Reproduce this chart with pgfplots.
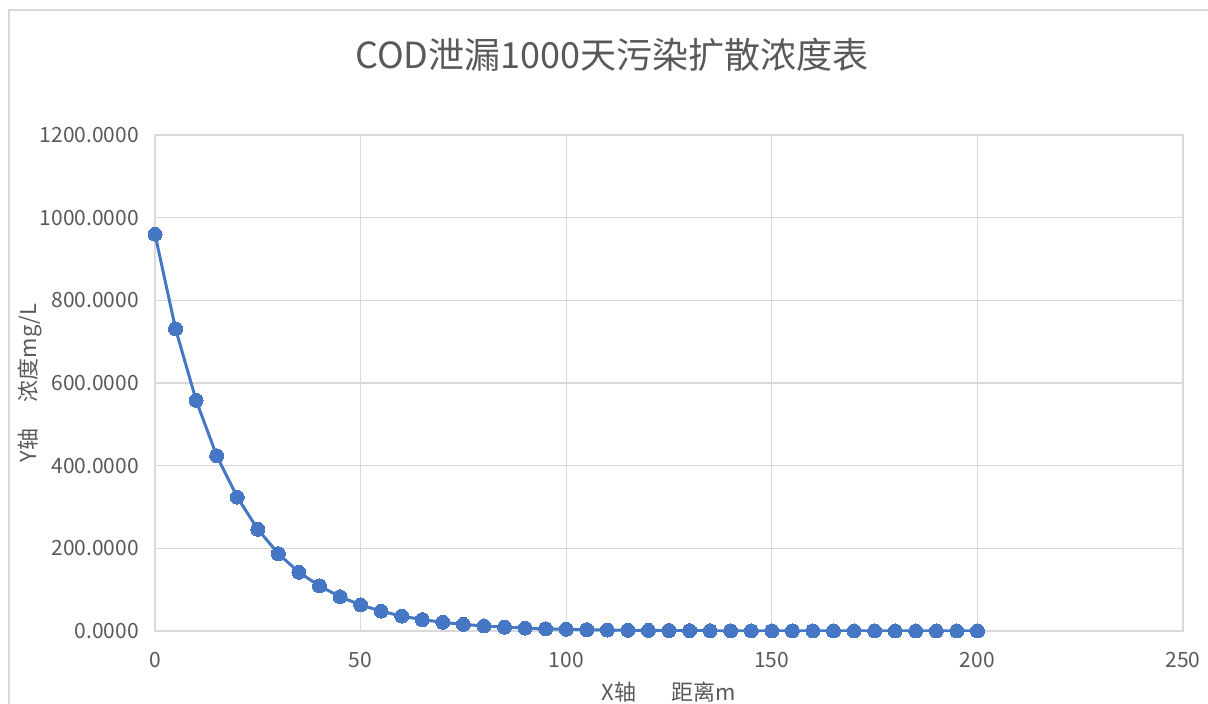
\documentclass[border=0pt]{standalone}
\usepackage{pgfplots}
\pgfplotsset{compat=1.18}
\usepackage{fontspec}
\setmainfont{Noto Sans CJK SC}

\definecolor{serie}{RGB}{70,119,196}
\definecolor{rejilla}{RGB}{217,217,217}
\definecolor{texto}{RGB}{89,89,89}

\pgfplotstableread{
x     c
0     960
5     731
10    558
15    424
20    324
25    246
30    187
35    142
40    109
45    83
50    63
55    48
60    36
65    27.5
70    21
75    16
80    12.2
85    9.3
90    7.1
95    5.4
100   4.1
105   3.1
110   2.4
115   1.8
120   1.4
125   1.05
130   0.8
135   0.6
140   0.47
145   0.36
150   0.27
155   0.21
160   0.16
165   0.12
170   0.09
175   0.07
180   0.05
185   0.04
190   0.03
195   0.02
200   0.02
}\datos

\begin{document}
\begin{tikzpicture}
% 1 px de la referencia = 0.5pt
\useasboundingbox (0,0) rectangle (604pt,-352pt);
\draw[rejilla, line width=0.6pt] (4.5pt,-352pt) -- (4.5pt,-5pt) -- (604pt,-5pt);
\node[texto, font=\fontsize{18pt}{21pt}\selectfont] at (306pt,-27.5pt) {COD泄漏1000天污染扩散浓度表};
\begin{axis}[
    at={(77.5pt,-315.5pt)}, anchor=south west,
    width=514pt, height=248pt, scale only axis,
    xmin=0, xmax=250,
    ymin=0, ymax=1200,
    xtick={0,50,...,250},
    ytick={0,200,...,1200},
    major tick length=0pt,
    axis line style={rejilla, line width=0.6pt},
    grid=major,
    grid style={rejilla, line width=0.6pt},
    tick label style={texto, font=\fontsize{10.5pt}{12pt}\selectfont},
    /pgf/number format/assume math mode=true,
    yticklabel style={/pgf/number format/.cd, fixed, fixed zerofill, precision=4, 1000 sep={}},
    xticklabel style={/pgf/number format/1000 sep={}},
    xticklabel shift=7pt,
    yticklabel shift=4.5pt,
    xlabel={X轴\hspace{1.6em}距离m},
    ylabel={Y轴\hspace{1.2em}浓度mg/L},
    label style={texto, font=\fontsize{11pt}{13pt}\selectfont},
    xlabel style={at={(axis description cs:0.5,-0.123)}, anchor=center},
    ylabel style={at={(axis description cs:-0.1216,0.5)}, anchor=center},
]
\addplot[serie, line width=1.5pt, mark=*, mark size=3.5pt,
    mark options={fill=serie, draw=serie, line width=0pt}] table[x=x, y=c] {\datos};
\end{axis}
\end{tikzpicture}
\end{document}
